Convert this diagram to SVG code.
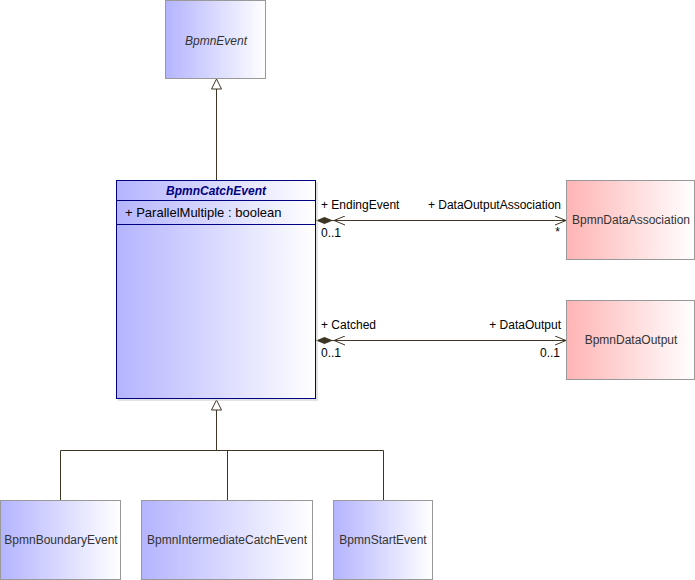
<svg xmlns="http://www.w3.org/2000/svg" width="695" height="580" viewBox="0 0 695 580">
<defs>
<linearGradient id="blue" x1="0" y1="0" x2="1" y2="0"><stop offset="0" stop-color="#b4b4ff"/><stop offset="1" stop-color="#ffffff"/></linearGradient>
<linearGradient id="red" x1="0" y1="0" x2="1" y2="0"><stop offset="0" stop-color="#ffb4b4"/><stop offset="1" stop-color="#ffffff"/></linearGradient>
<marker id="open" viewBox="0 0 12 10" refX="11" refY="5" markerWidth="12" markerHeight="10" markerUnits="userSpaceOnUse" orient="auto"><path d="M0,0.5 L11,5 L0,9.5" fill="none" stroke="#3f3525" stroke-width="1"/></marker>
<marker id="diamond" viewBox="0 0 30 10" refX="0" refY="5" markerWidth="30" markerHeight="10" markerUnits="userSpaceOnUse" orient="auto"><path d="M0,5 L8.5,1.5 L17,5 L8.5,8.5 Z" fill="#3f3525"/><path d="M29,0.5 L18,5 L29,9.5" fill="none" stroke="#3f3525"/></marker>
</defs>
<style>
text{font-family:"Liberation Sans",Arial,sans-serif;font-size:12px;fill:#333}
.box{stroke:#999;stroke-width:1}
.line{stroke:#3f3525;stroke-width:1;fill:none}
.lbl{fill:#000}
</style>
<g id="connectors">
<path class="line" d="M216.5,180 V89"/>
<path d="M216.5,79 L211.5,89 L221.5,89 Z" fill="#fff" stroke="#3f3525"/>
<path class="line" d="M216.5,410 V450.5 M60.5,500 V450.5 H383.5 V500 M227.5,450.5 V500"/>
<path d="M216.5,400 L211.5,410 L221.5,410 Z" fill="#fff" stroke="#3f3525"/>
<path class="line" d="M316,220.5 H566" marker-start="url(#diamond)" marker-end="url(#open)"/>
<path class="line" d="M316,340.5 H566" marker-start="url(#diamond)" marker-end="url(#open)"/>
<text class="lbl" x="321" y="209">+ EndingEvent</text>
<text class="lbl" x="561" y="209" text-anchor="end">+ DataOutputAssociation</text>
<text class="lbl" x="321" y="237">0..1</text>
<text class="lbl" x="560" y="236" text-anchor="end">*</text>
<text class="lbl" x="321" y="329">+ Catched</text>
<text class="lbl" x="561" y="329" text-anchor="end">+ DataOutput</text>
<text class="lbl" x="321" y="357">0..1</text>
<text class="lbl" x="560" y="357" text-anchor="end">0..1</text>
</g>
<g id="BpmnEvent">
<rect class="box" x="165.5" y="0.5" width="100" height="78" fill="url(#blue)"/>
<text x="216" y="45" text-anchor="middle" font-style="italic">BpmnEvent</text>
</g>
<g id="BpmnCatchEvent">
<rect x="118" y="182" width="200" height="219" fill="#c8c8c8" opacity="0.5"/>
<rect x="116.5" y="180.5" width="199" height="218" fill="url(#blue)" stroke="#000080"/>
<path d="M116.5,200.5 H315.5 M116.5,224.5 H315.5" stroke="#000080"/>
<text x="216" y="195" text-anchor="middle" font-weight="bold" font-style="italic" style="fill:#000080">BpmnCatchEvent</text>
<text x="125" y="217" class="lbl" style="font-size:13px">+ ParallelMultiple : boolean</text>
</g>
<g id="BpmnDataAssociation">
<rect class="box" x="566.5" y="180.5" width="128" height="79" fill="url(#red)"/>
<text x="631" y="224" text-anchor="middle">BpmnDataAssociation</text>
</g>
<g id="BpmnDataOutput">
<rect class="box" x="566.5" y="300.5" width="128" height="79" fill="url(#red)"/>
<text x="631" y="344" text-anchor="middle">BpmnDataOutput</text>
</g>
<g id="BpmnBoundaryEvent">
<rect class="box" x="0.5" y="500.5" width="120" height="79" fill="url(#blue)"/>
<text x="61" y="544" text-anchor="middle">BpmnBoundaryEvent</text>
</g>
<g id="BpmnIntermediateCatchEvent">
<rect class="box" x="141.5" y="500.5" width="171" height="79" fill="url(#blue)"/>
<text x="227" y="544" text-anchor="middle">BpmnIntermediateCatchEvent</text>
</g>
<g id="BpmnStartEvent">
<rect class="box" x="333.5" y="500.5" width="99" height="79" fill="url(#blue)"/>
<text x="383" y="544" text-anchor="middle">BpmnStartEvent</text>
</g>
</svg>
